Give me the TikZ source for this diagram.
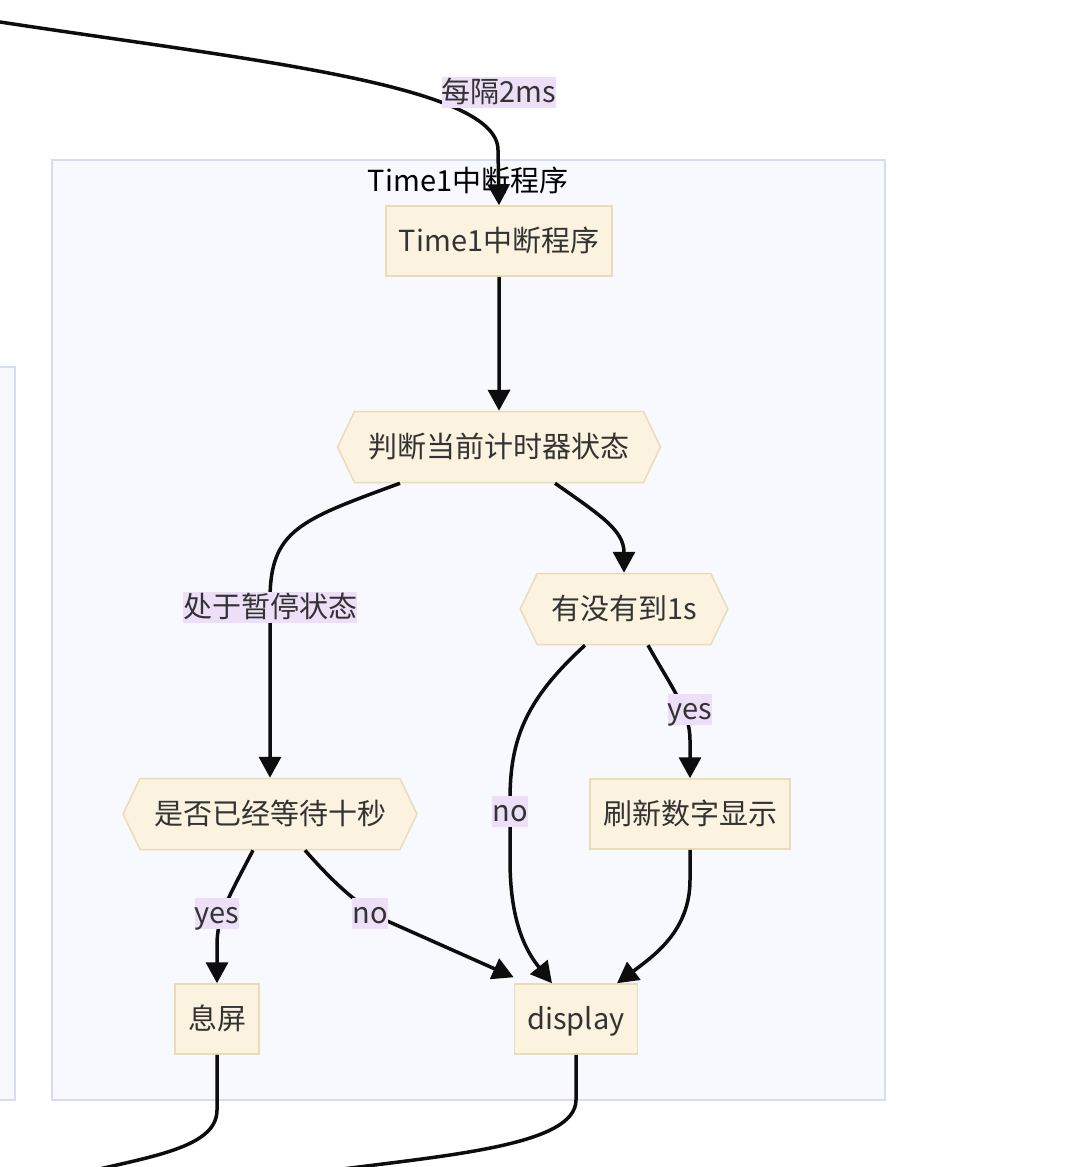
\documentclass[tikz,border=0pt]{standalone}
\usepackage{fontspec}
\setmainfont{Noto Sans CJK SC}
\usetikzlibrary{arrows.meta,shapes.symbols,calc}
\definecolor{boxfill}{HTML}{FBF3E0}
\definecolor{boxline}{HTML}{E8DDB5}
\definecolor{groupfill}{HTML}{F8F8FF}
\definecolor{groupline}{HTML}{D8DCF2}
\definecolor{labelfill}{HTML}{EDDFF8}
\definecolor{ink}{HTML}{333333}

\begin{document}
\begin{tikzpicture}[x=1pt, y=-1pt,
        txt/.style={font=\fontsize{29}{34}\selectfont, text=ink, text height=25pt, text depth=4pt},
        proc/.style={txt, rectangle, fill=boxfill, draw=boxline, line width=1.5pt, inner xsep=13pt, minimum height=70pt},
        cond/.style={txt, signal, signal to=east and west, signal pointer angle=129, fill=boxfill, draw=boxline, line width=1.5pt, inner xsep=14pt, minimum height=71pt},
        lbl/.style={txt, fill=labelfill, inner xsep=0pt, inner ysep=1pt},
        flow/.style={line width=3.5pt, draw=black!95, -{Triangle[length=21pt, width=22pt]}},
        wire/.style={line width=3.5pt, draw=black!95}]
        \useasboundingbox (0, 0) rectangle (1092, 1167);
        \clip (0, 0) rectangle (1092, 1167);

        \draw[fill=groupfill, draw=groupline, line width=1.5pt] (-10, 367) rectangle (15, 1100);
        \draw[fill=groupfill, draw=groupline, line width=1.5pt] (52, 160) rectangle (885, 1100);
        \node[txt, text=black] (title) at (468, 181) {Time1中断程序};

        \node[proc] (isr) at (499, 241) {Time1中断程序};
        \node[cond] (state) at (499, 447) {判断当前计时器状态};
        \node[cond] (sec) at (624, 609) {有没有到1s};
        \node[cond] (wait) at (270, 814) {是否已经等待十秒};
        \node[proc] (refresh) at (690, 814) {刷新数字显示};
        \node[proc] (off) at (217, 1019) {息屏};
        \node[proc] (disp) at (576, 1019) {display};

        \coordinate (src) at (0, 22);
        \coordinate (out1) at (95, 1170);
        \coordinate (out2) at (335, 1170);

        \draw[flow] (src) .. controls (250, 60) and (498, 85) .. (498, 150) -- (isr.north);
        \draw[flow] (isr) -- (state);
        \draw[flow] ([xshift=-99pt]state.south) .. controls (300, 520) and (270, 530) .. (270, 600) -- (wait.north);
        \draw[flow] ([xshift=56pt]state.south) .. controls (600, 515) and (624, 530) .. (sec.north);
        \draw[flow] ([xshift=-39pt]sec.south) .. controls (525, 700) and (510, 740) .. (510, 800) -- (510, 860) .. controls (510, 920) and (525, 950) .. ([xshift=-24pt]disp.north);
        \draw[flow] ([xshift=24pt]sec.south) .. controls (670, 685) and (690, 710) .. (690, 740) -- (refresh.north);
        \draw[flow] ([xshift=-17pt]wait.south) .. controls (230, 895) and (217, 915) .. (217, 945) -- (off.north);
        \draw[flow] ([xshift=35pt]wait.south) .. controls (340, 890) and (360, 905) .. (385, 920) -- ([yshift=6pt]disp.north west);
        \draw[flow] (refresh.south) -- (690, 880) .. controls (690, 930) and (655, 955) .. ([xshift=41pt]disp.north);
        \draw[wire] (off.south) -- (217, 1110) .. controls (217, 1145) and (160, 1155) .. (out1);
        \draw[wire] (disp.south) -- (576, 1100) .. controls (576, 1145) and (450, 1155) .. (out2);

        \node[lbl] (every) at (499, 92) {每隔2ms};
        \node[lbl] (paused) at (270, 607) {处于暂停状态};
        \node[lbl] (secno) at (510, 811) {no};
        \node[lbl] (secyes) at (690, 709) {yes};
        \node[lbl] (waityes) at (217, 913) {yes};
        \node[lbl] (waitno) at (370, 913) {no};
    \end{tikzpicture}
\end{document}
